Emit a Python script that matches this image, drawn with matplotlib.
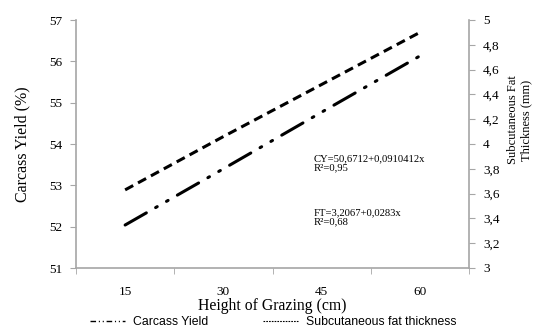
import numpy as np
import matplotlib
matplotlib.use("Agg")
import matplotlib.pyplot as plt
from matplotlib.lines import Line2D

# === Data ===
heights = ["15", "30", "45", "60"]
carcass_yield = [52.04, 53.40, 54.77, 56.13]      # %
fat_thickness = [3.63, 4.06, 4.48, 4.90]          # mm
left_ticks = [51, 52, 53, 54, 55, 56, 57]
right_ticks = [3, 3.2, 3.4, 3.6, 3.8, 4, 4.2, 4.4, 4.6, 4.8, 5]
right_labels = ["3", "3,2", "3,4", "3,6", "3,8", "4", "4,2", "4,4", "4,6", "4,8", "5"]

serif = "Liberation Serif"
axis_grey = "#a6a6a6"

fig = plt.figure(figsize=(5.38, 3.29), dpi=100)
ax = fig.add_axes([76 / 538, 1 - 268 / 329, (469 - 76) / 538, (268 - 20) / 329])
ax2 = ax.twinx()

x = np.arange(1, len(heights) + 1)

# Carcass yield (left axis) - long dash, dot, dot
ax.plot(x, carcass_yield, color="black", linewidth=2.2,
        dashes=(8, 3.5, 0.6, 3.5, 0.6, 3.5), dash_capstyle="round")
# Fat thickness (right axis) - dashed
ax2.plot(x, fat_thickness, color="black", linewidth=2.2, dashes=(3, 1.8))

ax.set_xlim(0.5, 4.5)
ax.set_ylim(51, 57)
ax2.set_ylim(3, 5)

ax.set_xticks(x)
ax.set_xticklabels(heights, fontfamily=serif, fontsize=9.5)
ax.set_xticks(np.arange(0.5, 4.6, 1), minor=True)
ax.tick_params(axis="x", which="major", length=0, pad=13)
ax.tick_params(axis="x", which="minor", length=4, direction="out", color=axis_grey)

ax.set_yticks(left_ticks)
ax.set_yticklabels([str(t) for t in left_ticks], fontfamily=serif, fontsize=9.5)
ax.tick_params(axis="y", length=4, color=axis_grey, pad=6)

ax2.set_yticks(right_ticks)
ax2.set_yticklabels(right_labels, fontfamily=serif, fontsize=9.5)
ax2.tick_params(axis="y", length=4, color=axis_grey, pad=6)

for a in (ax, ax2):
    a.spines["top"].set_visible(False)
    for s in ("left", "right", "bottom"):
        a.spines[s].set_color(axis_grey)
        a.spines[s].set_linewidth(1.2)
ax.spines["right"].set_visible(False)
ax2.spines["left"].set_visible(False)
ax2.spines["bottom"].set_visible(False)

ax.set_xlabel("Height of Grazing (cm)", fontfamily=serif, fontsize=11.3, labelpad=0)
ax.set_ylabel("Carcass Yield (%)", fontfamily=serif, fontsize=11.5, labelpad=13)
ax2.set_ylabel("Subcutaneous Fat\nThickness (mm)", fontfamily=serif, fontsize=9,
               linespacing=1.15, va="center")
# right label sits a bit above the axis centre in the reference
ax2.yaxis.set_label_coords((520 - 76) / 393, (268 - 120) / 248)

# Regression equations
ax.text(314 / 538, 1 - 163 / 329, "CY=50,6712+0,0910412x\nR²=0,95",
        transform=fig.transFigure, fontfamily=serif, fontsize=7.7,
        va="center", ha="left", linespacing=0.95)
ax.text(314 / 538, 1 - 217 / 329, "FT=3,2067+0,0283x\nR²=0,68",
        transform=fig.transFigure, fontfamily=serif, fontsize=7.7,
        va="center", ha="left", linespacing=0.95)

# Legend at bottom
handles = [
    Line2D([], [], color="black", linewidth=1, dashes=(4, 2, 0.8, 2, 0.8, 2)),
    Line2D([], [], color="black", linewidth=0.8, dashes=(1.5, 1)),
]
fig.legend(handles, ["Carcass Yield", "Subcutaneous fat thickness"],
           loc="center", bbox_to_anchor=(273 / 538, 1 - 322 / 329), ncol=2,
           frameon=False, prop={"family": "Liberation Sans", "size": 8.8},
           handlelength=2.9, handletextpad=0.6, columnspacing=4.5)

fig.savefig("out.png", dpi=100)
